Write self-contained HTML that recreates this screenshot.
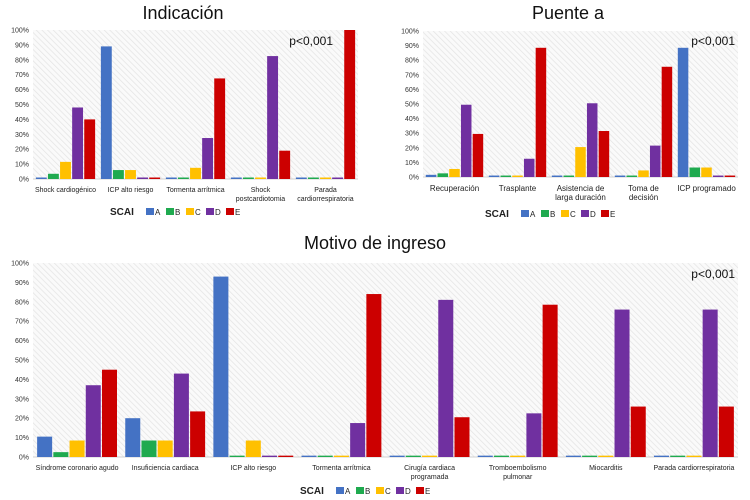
<!DOCTYPE html>
<html><head><meta charset="utf-8"><style>
body{margin:0;background:#fff;font-family:"Liberation Sans",sans-serif}
svg{display:block}
</style></head><body>
<svg id="s" width="750" height="500" xmlns="http://www.w3.org/2000/svg">
<defs><pattern id="hatch" width="4" height="4" patternUnits="userSpaceOnUse" patternTransform="rotate(-45)">
<rect width="4" height="4" fill="#fafafa"/><line x1="0" y1="0" x2="0" y2="4" stroke="#e4e4e4" stroke-width="1.5"/></pattern></defs>
</svg>
<script>
const series = ['A','B','C','D','E'];
const colors = ['#4472C4','#1FAA4F','#FFC000','#7030A0','#CC0000'];
const ticks = ['0%','10%','20%','30%','40%','50%','60%','70%','80%','90%','100%'];
const cats1 = [['Shock cardiogénico'],['ICP alto riesgo'],['Tormenta arrítmica'],['Shock','postcardiotomia'],['Parada','cardiorrespiratoria']];
const vals1 = [[1,3.5,11.5,48,40],[89,6,6,1,1],[1,1,7.5,27.5,67.5],[1,1,1,82.5,19],[1,1,1,1,100]];
const cats2 = [['Recuperación'],['Trasplante'],['Asistencia de','larga duración'],['Toma de','decisión'],['ICP programado']];
const vals2 = [[1.5,2.5,5.5,49.5,29.5],[1,1,1,12.5,88.5],[1,1,20.5,50.5,31.5],[1,1,4.5,21.5,75.5],[88.5,6.5,6.5,1,1]];
const cats3 = [['Síndrome coronario agudo'],['Insuficiencia cardiaca'],['ICP alto riesgo'],['Tormenta arrítmica'],['Cirugía cardiaca','programada'],['Tromboembolismo','pulmonar'],['Miocarditis'],['Parada cardiorrespiratoria']];
const vals3 = [[10.5,2.5,8.5,37,45],[20,8.5,8.5,43,23.5],[93,0.7,8.5,0.7,0.7],[0.7,0.7,0.7,17.5,84],[0.7,0.7,0.7,81,20.5],[0.7,0.7,0.7,22.5,78.5],[0.7,0.7,0.7,76,26],[0.7,0.7,0.7,76,26]];

const svg = document.getElementById('s');
const NS = 'http://www.w3.org/2000/svg';
function mk(tag, attrs, parent){const e=document.createElementNS(NS,tag);for(const k in attrs)e.setAttribute(k,attrs[k]);(parent||svg).appendChild(e);return e;}

function chart(cfg){
  const g = mk('g',{});
  
  
  const {x0,x1,yTop,yBot,cats,vals} = cfg;
  const yS = v => yBot - (yBot-yTop)*v/100;
  const gw = (x1-x0)/cats.length;
  const bg = mk('rect',{x:x0,y:yTop,width:x1-x0,height:yBot-yTop,fill:'url(#hatch)'},g);
  
  
  mk('line',{x1:x0,x2:x1,y1:yBot,y2:yBot,stroke:'#d0d0d0','stroke-width':1},g);
  ticks.forEach((t,i)=>{
    const tl = mk('text',{x:x0-4,y:yS(i*10)+2.5,'font-size':7,'text-anchor':'end',fill:'#333'},g);
    tl.textContent = t;
    
    
  });
  const t = mk('text',{x:cfg.tx,y:cfg.ty,'font-size':18,'text-anchor':'middle',fill:'#111'},g);
  t.textContent = cfg.title;
  
  
  const p = mk('text',{x:cfg.px,y:cfg.py,'font-size':12,'text-anchor':'end',fill:'#111'},g);
  p.textContent = 'p<0,001';
  
  
  const inner = gw*cfg.fill;
  const bw = inner/5;
  cats.forEach((c,ci)=>{
    const gx = x0 + ci*gw + (gw-inner)/2;
    vals[ci].forEach((v,si)=>{
      const y = yS(v);
      const b = mk('rect',{x:gx+si*bw+0.6,y:y,width:bw-1.2,height:yBot-y,fill:colors[si]},g);
      
      
    });
    c.forEach((line,li)=>{
      const lt = mk('text',{x:x0+ci*gw+gw/2,y:yBot+cfg.ly+li*9,'font-size':cfg.lfs,'text-anchor':'middle',fill:'#222'},g);
      lt.textContent = line;
      
      
    });
  });
  const lg = mk('g',{},g);
  
  
  const st = mk('text',{x:cfg.lx,y:cfg.lyy,'font-size':10,'font-weight':'bold',fill:'#222'},lg);
  st.textContent='SCAI';
  series.forEach((s,i)=>{
    const ex = cfg.lx+36+i*20;
    const r = mk('rect',{x:ex,y:cfg.lyy-7,width:8,height:7,fill:colors[i]},lg);
    
    
    const tt = mk('text',{x:ex+9,y:cfg.lyy,'font-size':8,fill:'#222'},lg);
    tt.textContent=s;
    
    
  });
}
chart({name:'chart-indicacion',title:'Indicación',tx:183,ty:19,x0:33,x1:358,yTop:30,yBot:179,cats:cats1,vals:vals1,fill:0.93,px:333,py:45,ly:13,lfs:7,lx:110,lyy:215});
chart({name:'chart-puente',title:'Puente a',tx:568,ty:19,x0:423,x1:738,yTop:31,yBot:177,cats:cats2,vals:vals2,fill:0.93,px:735,py:45,ly:14,lfs:8,lx:485,lyy:217});
chart({name:'chart-motivo',title:'Motivo de ingreso',tx:375,ty:249,x0:33,x1:738,yTop:263,yBot:457,cats:cats3,vals:vals3,fill:0.92,px:735,py:278,ly:13,lfs:7,lx:300,lyy:494});
</script>
</body></html>
